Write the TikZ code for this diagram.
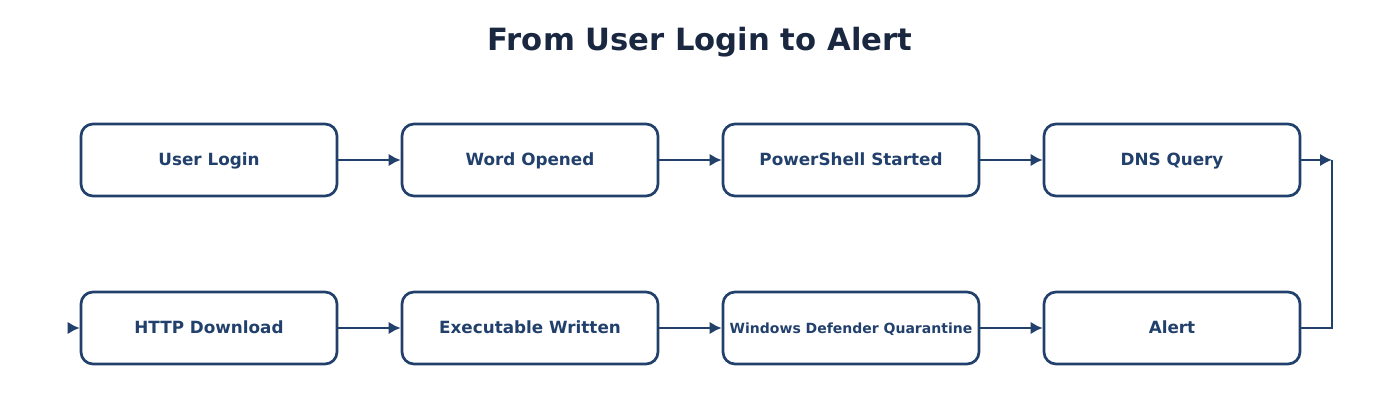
\documentclass[tikz,border=0pt]{standalone}
\usepackage{fontspec}
\setmainfont{DejaVu Sans}
\usepackage{xcolor}
\usepackage{tikz}
\usetikzlibrary{positioning, arrows.meta}
\definecolor{boxblue}{HTML}{22406C}
\definecolor{titleblue}{HTML}{1A2740}
\tikzset{flow/.style={-{Latex[length=9pt,width=9.5pt]}, line width=2.2pt, draw=boxblue}}

\begin{document}
\begin{tikzpicture}[x=0.75pt,y=-0.75pt]
    \tikzstyle{stage}=[rectangle,rounded corners=9pt,line width=2pt,draw=boxblue,fill=white,text=boxblue,font=\bfseries\fontsize{12.6}{14}\selectfont,text height=0.9em,text depth=0pt,minimum width=192pt,minimum height=54pt,inner sep=0pt]
    \useasboundingbox (0,0) rectangle (1400,420);

    \node (title)[text=titleblue,font=\bfseries\fontsize{23}{26}\selectfont] at (700,42) {From User Login to Alert};

    \node (login)[stage] at (209,160) {User Login};
    \node (word)[stage] at (530,160) {Word Opened};
    \node (ps)[stage] at (851,160) {PowerShell Started};
    \node (dns)[stage] at (1172,160) {DNS Query};

    \node (http)[stage] at (209,328) {HTTP Download};
    \node (exe)[stage] at (530,328) {Executable Written};
    \node (wdq)[stage,font=\bfseries\fontsize{10.5}{12}\selectfont] at (851,328) {Windows Defender Quarantine};
    \node (alert)[stage] at (1172,328) {Alert};

    \coordinate (turn) at (1332,160);
    \coordinate (entry) at (70,328);

    \draw[flow] (login) -- (word);
    \draw[flow] (word) -- (ps);
    \draw[flow] (ps) -- (dns);
    \draw[flow] (dns) -- (turn);
    \draw[line width=2.2pt,draw=boxblue] (alert.east) -| (turn);
    \draw[flow] (entry) -- (http.west);
    \draw[flow] (http) -- (exe);
    \draw[flow] (exe) -- (wdq);
    \draw[flow] (wdq) -- (alert);
\end{tikzpicture}
\end{document}
